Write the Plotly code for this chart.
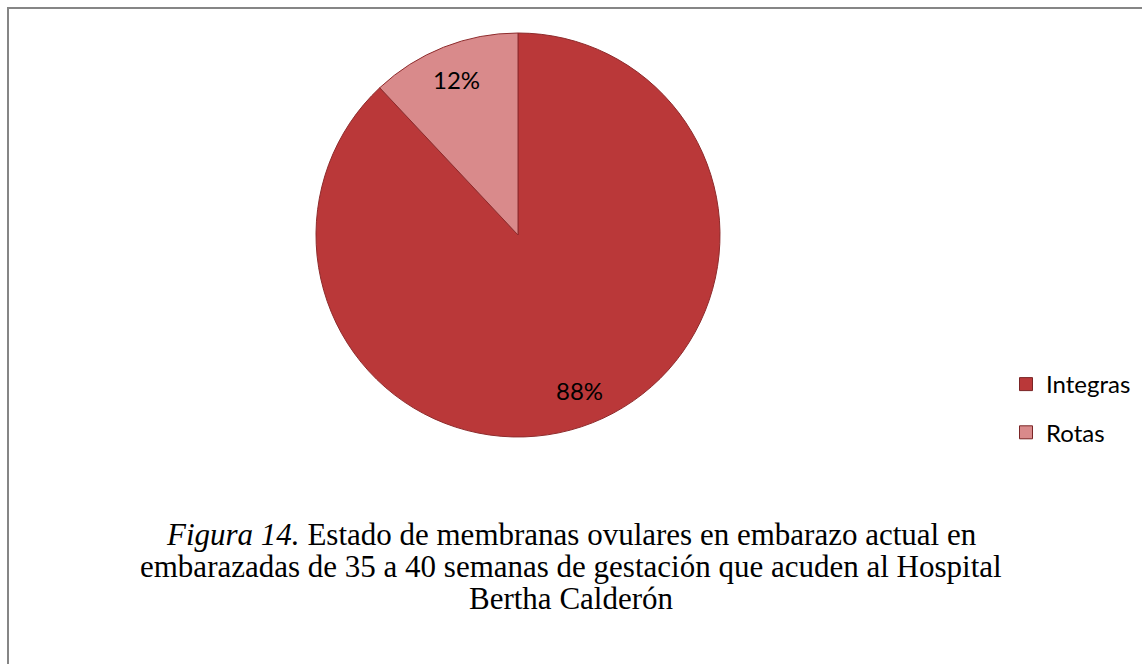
import math
import plotly.graph_objects as go

labels = ["Integras", "Rotas"]
values = [88, 12]
colors = ["#BA3839", "#D98A8B"]
caption_lines = [
    "<i>Figura 14.</i> Estado de membranas ovulares en embarazo actual en",
    "embarazadas de 35 a 40 semanas de gestación que acuden al Hospital",
    "Bertha Calderón",
]

W, H = 1142, 664
cx, cy, r = 518, 235, 202
label_font = "Lato, Carlito, sans-serif"

fig = go.Figure()
fig.add_trace(go.Pie(
    labels=labels,
    values=values,
    sort=False,
    direction="clockwise",
    rotation=0,
    marker=dict(colors=colors, line=dict(color="#8E2B2C", width=1)),
    textinfo="none",
    domain=dict(x=[(cx - r) / W, (cx + r) / W], y=[1 - (cy + r) / H, 1 - (cy - r) / H]),
    showlegend=False,
))

# legend entries (separate groups so the spacing can match the reference)
for lab, col in zip(labels, colors):
    fig.add_trace(go.Scatter(
        x=[None], y=[None], mode="markers", name=lab, legendgroup=lab,
        marker=dict(symbol="square", size=13, color=col, line=dict(color="#7A2526", width=1)),
    ))

# percentage labels placed at the slice mid-angles
total = sum(values)
annotations = []
start = 0.0
for v in values:
    mid = start + v / 2
    ang = 2 * math.pi * mid / total
    px = cx + 0.83 * r * math.sin(ang)
    py = cy - 0.83 * r * math.cos(ang)
    annotations.append(dict(
        text=f"{round(100 * v / total)}%", x=px / W, y=1 - py / H, xref="paper", yref="paper",
        xanchor="center", yanchor="middle", showarrow=False,
        font=dict(family=label_font, size=24, color="#000000"),
    ))
    start += v

cap_y = [534, 566, 598]
for line, yy in zip(caption_lines, cap_y):
    annotations.append(dict(
        text=line, x=571 / W, y=1 - yy / H, xref="paper", yref="paper",
        xanchor="center", yanchor="middle", showarrow=False, align="center",
        font=dict(family="Liberation Serif, Times New Roman, serif", size=31, color="#000000"),
    ))

fig.update_layout(
    width=W, height=H,
    margin=dict(l=0, r=0, t=0, b=0),
    paper_bgcolor="white",
    plot_bgcolor="white",
    xaxis=dict(visible=False),
    yaxis=dict(visible=False),
    legend=dict(
        x=1006 / W, y=1 - 362 / H, xanchor="left", yanchor="top",
        font=dict(family=label_font, size=24, color="#000000"),
        itemwidth=30,
        tracegroupgap=14,
        bgcolor="rgba(0,0,0,0)",
    ),
    shapes=[
        dict(type="line", xref="paper", yref="paper", x0=7 / W, x1=1, y0=1 - 8 / H, y1=1 - 8 / H,
             line=dict(color="#868686", width=2)),
        dict(type="line", xref="paper", yref="paper", x0=8 / W, x1=8 / W, y0=0, y1=1 - 8 / H,
             line=dict(color="#868686", width=2)),
    ],
    annotations=annotations,
)

fig.write_html("out.html", config={"displayModeBar": False},
               post_script="document.body.style.margin='0';")
